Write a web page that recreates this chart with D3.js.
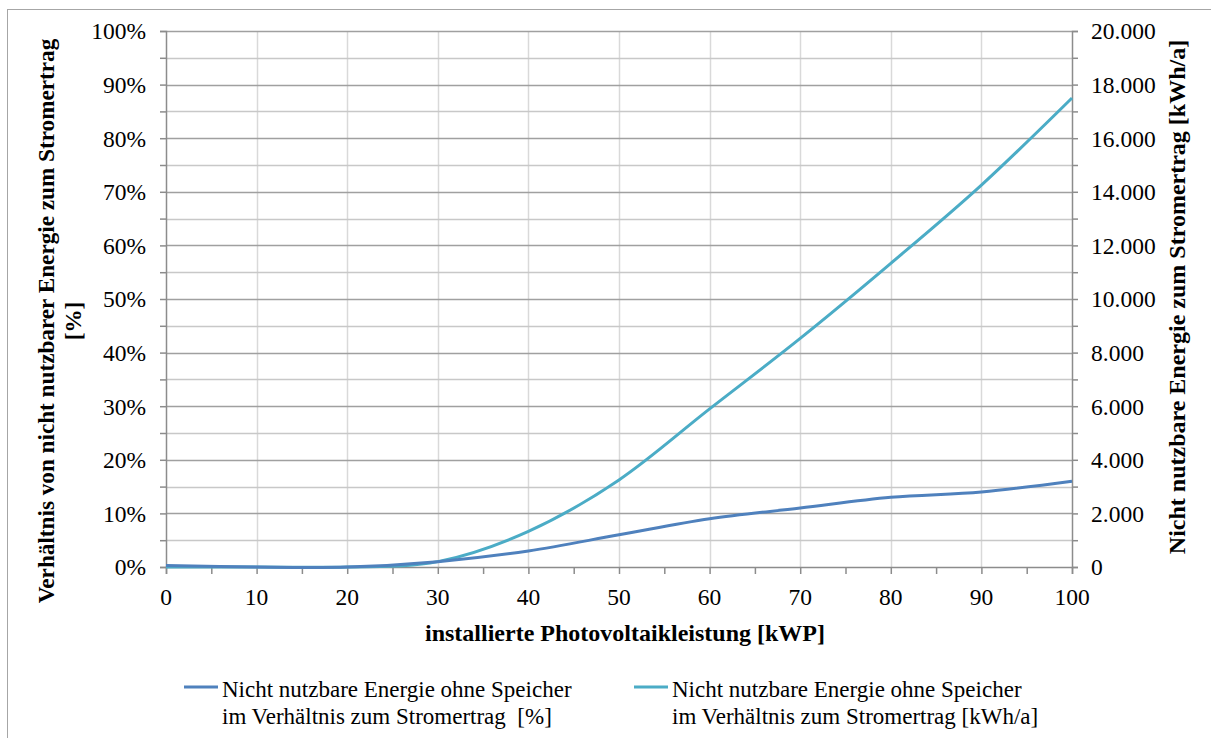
<!DOCTYPE html>
<html>
<head>
<meta charset="utf-8">
<script src="https://cdn.jsdelivr.net/npm/d3@7"></script>
<style>
  html, body { margin: 0; padding: 0; background: #fff; }
  svg text { font-family: "Liberation Serif", "Times New Roman", serif; fill: #000; white-space: pre; }
</style>
</head>
<body>
<svg id="chart" width="1211" height="738"></svg>
<script>
// installed PV power [kWp]
const capacity = [0, 10, 20, 30, 40, 50, 60, 70, 80, 90, 100];
// unusable energy without storage relative to yield [%]
const sharePercent = [0.3, 0, 0, 1.0, 3.0, 6.0, 9.0, 11.0, 13.0, 14.0, 16.0];
// unusable energy without storage [kWh/a]
const energyKwh = [0, 0, 0, 200, 1330, 3250, 5900, 8530, 11330, 14250, 17500];

const xTicks = [0, 10, 20, 30, 40, 50, 60, 70, 80, 90, 100];
const leftTicks = [0, 10, 20, 30, 40, 50, 60, 70, 80, 90, 100];
const rightTicks = [0, 2000, 4000, 6000, 8000, 10000, 12000, 14000, 16000, 18000, 20000];

const seriesNames = [
  ["Nicht nutzbare Energie ohne Speicher", "im Verhältnis zum Stromertrag  [%]"],
  ["Nicht nutzbare Energie ohne Speicher", "im Verhältnis zum Stromertrag [kWh/a]"]
];
const seriesColors = ["#4f81bd", "#4bacc6"];

const svg = d3.select("#chart");
const plot = { left: 166, right: 1072, top: 31, bottom: 567 };

const x = d3.scaleLinear().domain([0, 100]).range([plot.left, plot.right]);
const yL = d3.scaleLinear().domain([0, 100]).range([plot.bottom, plot.top]);
const yR = d3.scaleLinear().domain([0, 20000]).range([plot.bottom, plot.top]);

// outer chart frame
svg.append("rect")
  .attr("x", 7.5).attr("y", 9.5)
  .attr("width", 1400).attr("height", 900)
  .attr("fill", "#fff").attr("stroke", "#a6a6a6").attr("stroke-width", 1);

// vertical gridlines
svg.append("g")
  .selectAll("line")
  .data(xTicks.slice(1, -1))
  .join("line")
  .attr("x1", d => Math.round(x(d)) + 0.5).attr("x2", d => Math.round(x(d)) + 0.5)
  .attr("y1", plot.top).attr("y2", plot.bottom)
  .attr("stroke", "#d9d9d9").attr("stroke-width", 1.5);

// horizontal gridlines: minor (5 %) lighter, major (10 %) darker
const minorY = d3.range(5, 100, 10);
svg.append("g")
  .selectAll("line")
  .data(minorY)
  .join("line")
  .attr("x1", plot.left).attr("x2", plot.right)
  .attr("y1", d => Math.round(yL(d)) + 0.5).attr("y2", d => Math.round(yL(d)) + 0.5)
  .attr("stroke", "#c8c8c8").attr("stroke-width", 1.5);
svg.append("g")
  .selectAll("line")
  .data(leftTicks.slice(1))
  .join("line")
  .attr("x1", plot.left).attr("x2", plot.right)
  .attr("y1", d => Math.round(yL(d)) + 0.5).attr("y2", d => Math.round(yL(d)) + 0.5)
  .attr("stroke", "#a0a0a0").attr("stroke-width", 1.5);

// axes
const axisColor = "#8c8c8c";
const fmtPct = d => d + "%";
const fmtKwh = d => d3.format(",")(d).replace(/,/g, ".");

const gLeft = svg.append("g").attr("transform", `translate(${plot.left},0)`)
  .call(d3.axisLeft(yL).tickValues(d3.range(0, 101, 5)).tickSize(6).tickFormat(""));
const gRight = svg.append("g").attr("transform", `translate(${plot.right},0)`)
  .call(d3.axisRight(yR).tickValues(d3.range(0, 20001, 1000)).tickSize(6).tickFormat(""));
const gBottom = svg.append("g").attr("transform", `translate(0,${plot.bottom})`)
  .call(d3.axisBottom(x).tickValues(d3.range(0, 101, 5)).tickSize(7).tickFormat(""));

[gLeft, gRight, gBottom].forEach(g => {
  g.select(".domain").attr("stroke", axisColor).attr("stroke-width", 1.5);
  g.selectAll(".tick line").attr("stroke", axisColor).attr("stroke-width", 1.5);
});

// tick labels
const tickFont = 23.5;
svg.append("g").selectAll("text").data(leftTicks).join("text")
  .attr("x", 146).attr("y", d => yL(d)).attr("dy", "0.36em")
  .attr("text-anchor", "end").attr("font-size", tickFont)
  .text(fmtPct);
svg.append("g").selectAll("text").data(rightTicks).join("text")
  .attr("x", 1091).attr("y", d => yR(d)).attr("dy", "0.36em")
  .attr("text-anchor", "start").attr("font-size", tickFont)
  .text(fmtKwh);
svg.append("g").selectAll("text").data(xTicks).join("text")
  .attr("x", d => x(d)).attr("y", 605)
  .attr("text-anchor", "middle").attr("font-size", tickFont)
  .text(d => d);

// axis titles
svg.append("text")
  .attr("x", 625).attr("y", 641)
  .attr("text-anchor", "middle").attr("font-size", 24).attr("font-weight", "bold")
  .text("installierte Photovoltaikleistung [kWP]");

const leftTitle = svg.append("text")
  .attr("transform", "translate(0,321) rotate(-90)")
  .attr("text-anchor", "middle").attr("font-size", 23.2).attr("font-weight", "bold");
leftTitle.append("tspan").attr("x", 0).attr("y", 54)
  .text("Verhältnis von nicht nutzbarer Energie zum Stromertrag");
leftTitle.append("tspan").attr("x", 0).attr("y", 81).text("[%]");

svg.append("text")
  .attr("transform", "translate(1185,297) rotate(-90)")
  .attr("text-anchor", "middle").attr("font-size", 24).attr("font-weight", "bold")
  .text("Nicht nutzbare Energie zum Stromertrag [kWh/a]");

// series lines, smoothed like a spreadsheet "smooth line"
const smooth = d3.curveCardinal.tension(0);
const lineL = d3.line().x((d, i) => x(capacity[i])).y(d => yL(d)).curve(smooth);
const lineR = d3.line().x((d, i) => x(capacity[i])).y(d => yR(d)).curve(smooth);

svg.append("path").datum(energyKwh)
  .attr("d", lineR).attr("fill", "none")
  .attr("stroke", seriesColors[1]).attr("stroke-width", 3).attr("stroke-linejoin", "round");
svg.append("path").datum(sharePercent)
  .attr("d", lineL).attr("fill", "none")
  .attr("stroke", seriesColors[0]).attr("stroke-width", 3).attr("stroke-linejoin", "round");

// legend
const legendX = [184, 634];
const legend = svg.append("g");
seriesNames.forEach((lines, i) => {
  const g = legend.append("g").attr("transform", `translate(${legendX[i]},0)`);
  g.append("line").attr("x1", 0).attr("x2", 34).attr("y1", 687).attr("y2", 687)
    .attr("stroke", seriesColors[i]).attr("stroke-width", 3);
  g.append("text").attr("x", 38).attr("y", 697).attr("font-size", 23).text(lines[0]);
  g.append("text").attr("x", 38).attr("y", 724).attr("font-size", 23).text(lines[1]);
});
</script>
</body>
</html>
